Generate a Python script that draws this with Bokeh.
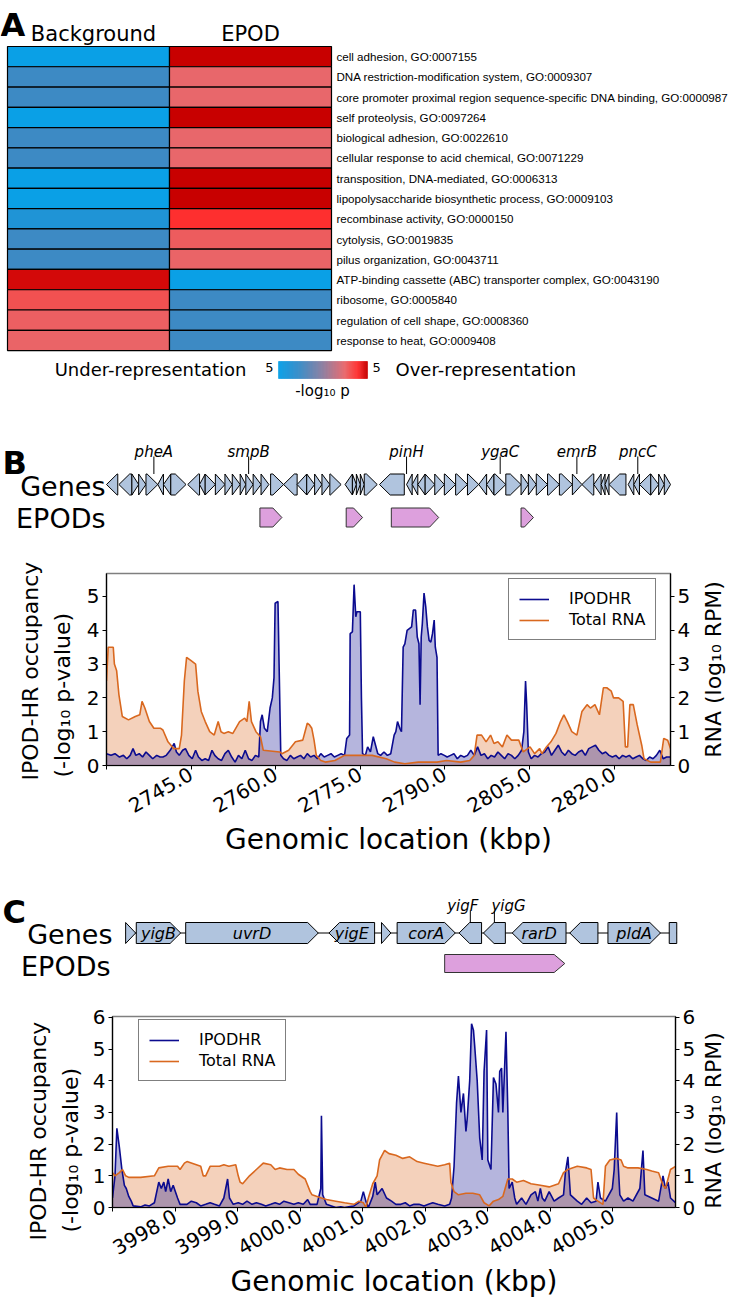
import math
import numpy as np
from bokeh.plotting import figure
from bokeh.layouts import column, row
from bokeh.models import (Range1d, LinearAxis, FixedTicker, CustomJSTickFormatter,
                          Legend, LegendItem, LinearColorMapper, ColumnDataSource, Plot)
from bokeh.embed import file_html
from bokeh.resources import INLINE
from bokeh.core.properties import value

# ---------------- Panel A data ----------------
GO_TERMS = [
    "cell adhesion, GO:0007155",
    "DNA restriction-modification system, GO:0009307",
    "core promoter proximal region sequence-specific DNA binding, GO:0000987",
    "self proteolysis, GO:0097264",
    "biological adhesion, GO:0022610",
    "cellular response to acid chemical, GO:0071229",
    "transposition, DNA-mediated, GO:0006313",
    "lipopolysaccharide biosynthetic process, GO:0009103",
    "recombinase activity, GO:0000150",
    "cytolysis, GO:0019835",
    "pilus organization, GO:0043711",
    "ATP-binding cassette (ABC) transporter complex, GO:0043190",
    "ribosome, GO:0005840",
    "regulation of cell shape, GO:0008360",
    "response to heat, GO:0009408",
]
COLUMNS = ["Background", "EPOD"]
BACKGROUND = [-5, -2.5, -2.5, -5, -2.5, -2.5, -5, -5, -3.8, -2.5, -2.5, 4.8, 3.1, 2.7, 2.6]
EPOD_VALS = [5, 2.5, 2.5, 5, 2.5, 2.5, 5, 5, 4.0, 2.8, 2.6, -5, -2.5, -2.5, -2.5]
CBAR_LOW, CBAR_HIGH = -5, 5

# ---------------- Panel B data ----------------
B_GENE_START = [2730.0, 2732.2, 2734.5, 2735.7, 2737.0, 2739.1, 2740.1, 2741.4, 2744.4, 2746.5,
                2747.5, 2749.3, 2751.0, 2752.3, 2753.7, 2754.7, 2756.0, 2757.4, 2759.1, 2761.4,
                2763.8, 2765.5, 2766.9, 2768.2, 2769.6, 2772.3, 2773.6, 2774.3, 2775.0, 2775.7,
                2778.4, 2783.2, 2784.2, 2785.2, 2786.5, 2788.2, 2789.9, 2791.9, 2794.0, 2796.0,
                2797.4, 2798.7, 2800.8, 2803.5, 2804.8, 2806.2, 2808.2, 2810.3, 2812.6, 2814.3,
                2816.4, 2817.7, 2818.4, 2819.1, 2822.5, 2823.5, 2824.5, 2826.5, 2827.9, 2828.9]
B_GENE_END = [2732.0, 2734.5, 2735.7, 2737.0, 2739.1, 2740.1, 2741.4, 2744.1, 2746.5, 2747.5,
              2749.3, 2751.0, 2752.3, 2753.7, 2754.7, 2756.0, 2757.4, 2758.8, 2761.4, 2763.8,
              2765.5, 2766.9, 2768.2, 2769.6, 2771.6, 2773.6, 2774.3, 2775.0, 2775.7, 2778.0,
              2782.8, 2784.2, 2785.2, 2786.5, 2788.2, 2789.9, 2791.9, 2794.0, 2796.0, 2797.4,
              2798.7, 2800.8, 2803.5, 2804.8, 2806.2, 2808.2, 2810.3, 2812.6, 2814.3, 2816.4,
              2817.7, 2818.4, 2819.1, 2822.1, 2823.5, 2824.5, 2826.5, 2827.9, 2828.9, 2830.0]
B_GENE_STRAND = [-1, -1, 1, 1, 1, -1, -1, 1, -1, -1,
                 1, 1, 1, 1, 1, 1, 1, 1, 1, -1,
                 -1, 1, 1, 1, 1, -1, 1, 1, 1, 1,
                 -1, -1, -1, -1, 1, 1, 1, 1, 1, -1,
                 -1, 1, 1, 1, 1, 1, 1, 1, 1, -1,
                 -1, -1, -1, -1, -1, -1, -1, 1, 1, 1]
B_LABELS = ["pheA", "smpB", "pinH", "ygaC", "emrB", "pncC"]
B_LABEL_POS = [2738.4, 2755.2, 2783.2, 2799.8, 2813.4, 2824.2]
B_EPOD_START = [2757.2, 2772.5, 2780.5, 2803.5]
B_EPOD_END = [2761.1, 2775.4, 2788.9, 2805.7]

B_IPOD_X = [2730.0, 2730.8, 2731.5, 2732.3, 2733.0, 2733.6, 2734.2, 2734.7, 2735.2, 2735.8,
            2736.4, 2737.0, 2737.6, 2738.2, 2738.9, 2739.5, 2740.0, 2740.6, 2741.3, 2742.0,
            2742.4, 2742.9, 2743.5, 2744.0, 2744.6, 2745.2, 2745.8, 2746.3, 2746.9, 2747.5,
            2748.1, 2748.7, 2749.2, 2749.8, 2750.4, 2751.0, 2751.6, 2752.2, 2752.8, 2753.4,
            2754.0, 2754.6, 2755.2, 2755.8, 2756.4, 2757.0, 2757.3, 2757.6, 2758.0, 2758.5,
            2759.0, 2759.4, 2759.7, 2759.9, 2760.4, 2760.6, 2760.9, 2761.4, 2762.0, 2762.6,
            2763.2, 2763.8, 2764.4, 2765.0, 2765.6, 2766.2, 2766.8, 2767.4, 2768.0, 2768.6,
            2769.2, 2769.8, 2770.4, 2771.0, 2771.6, 2772.2, 2772.6, 2773.1, 2773.2, 2773.6,
            2773.9, 2774.2, 2774.4, 2775.0, 2775.2, 2775.4, 2775.9, 2776.3, 2776.8, 2777.3,
            2777.7, 2778.1, 2778.6, 2779.2, 2779.8, 2780.4, 2781.0, 2781.3, 2781.6, 2782.0,
            2782.3, 2782.6, 2782.9, 2783.3, 2783.7, 2784.1, 2784.4, 2784.8, 2785.1, 2785.4,
            2785.6, 2785.8, 2786.0, 2786.3, 2786.6, 2786.9, 2787.2, 2787.5, 2787.8, 2788.1,
            2788.3, 2788.6, 2788.8, 2789.3, 2789.9, 2790.4, 2791.0, 2791.6, 2792.2, 2792.8,
            2793.4, 2794.0, 2794.6, 2795.2, 2795.8, 2796.4, 2797.0, 2797.6, 2798.2, 2798.8,
            2799.4, 2800.0, 2800.6, 2801.2, 2801.8, 2802.4, 2803.0, 2803.6, 2804.0, 2804.3,
            2804.5, 2804.8, 2805.3, 2805.9, 2806.5, 2807.1, 2807.7, 2808.3, 2808.9, 2809.5,
            2810.1, 2810.7, 2811.3, 2811.9, 2812.5, 2813.1, 2813.7, 2814.3, 2814.9, 2815.5,
            2816.1, 2816.7, 2817.3, 2817.9, 2818.5, 2819.1, 2819.7, 2820.3, 2820.9, 2821.5,
            2822.1, 2822.7, 2823.3, 2823.9, 2824.5, 2825.1, 2825.7, 2826.3, 2826.9, 2827.5,
            2828.1, 2828.7, 2829.3, 2830.0]
B_IPOD_Y = [0.35, 0.3, 0.35, 0.25, 0.3, 0.2, 0.3, 0.5, 0.3, 0.35,
            0.25, 0.4, 0.3, 0.2, 0.3, 0.25, 0.25, 0.3, 0.45, 0.65,
            0.4, 0.3, 0.45, 0.5, 0.3, 0.2, 0.45, 0.25, 0.15, 0.2,
            0.15, 0.45, 0.3, 0.2, 0.15, 0.35, 0.45, 0.25, 0.1, 0.3,
            0.2, 0.45, 0.2, 0.15, 0.3, 0.25, 1.3, 1.5, 1.1, 1.0,
            1.7, 2.0, 2.6, 4.8, 4.85, 3.0, 0.3, 0.2, 0.15, 0.3,
            0.2, 0.25, 0.3, 0.2, 0.35, 0.25, 0.3, 0.2, 0.35, 0.25,
            0.3, 0.35, 0.25, 0.3, 0.35, 0.3, 0.8, 0.9, 3.9, 3.95,
            5.35, 4.4, 4.55, 4.55, 2.0, 0.35, 0.3, 0.55, 0.4, 0.85,
            0.6, 0.35, 0.3, 0.4, 0.3, 0.35, 0.9, 1.0, 1.3, 1.1,
            1.0, 3.5, 3.6, 4.0, 4.05, 4.1, 4.6, 4.6, 3.8, 3.6,
            1.8, 3.8, 4.2, 5.1, 4.7, 4.1, 3.7, 3.65, 3.9, 4.3,
            3.5, 3.2, 0.3, 0.35, 0.3, 0.25, 0.3, 0.35, 0.2, 0.3,
            0.25, 0.3, 0.45, 0.3, 0.55, 0.3, 0.35, 0.2, 0.3, 0.25,
            0.4, 0.3, 0.2, 0.35, 0.3, 0.2, 0.3, 0.45, 1.0, 2.5,
            1.8, 0.4, 0.2, 0.3, 0.25, 0.35, 0.4, 0.55, 0.3, 0.45,
            0.6, 0.4, 0.3, 0.45, 0.35, 0.3, 0.4, 0.45, 0.3, 0.5,
            0.55, 0.6, 0.45, 0.35, 0.4, 0.3, 0.25, 0.3, 0.2, 0.3,
            0.25, 0.3, 0.2, 0.25, 0.3, 0.2, 0.15, 0.25, 0.2, 0.3,
            0.45, 0.2, 0.25, 0.25]
B_RNA_X = [2730.0, 2730.3, 2731.2, 2731.4, 2731.8, 2732.2, 2732.8, 2733.9, 2735.1, 2735.9,
           2736.3, 2736.8, 2737.6, 2738.4, 2739.6, 2740.0, 2740.9, 2741.9, 2742.9, 2743.3,
           2743.8, 2744.2, 2745.0, 2745.8, 2746.2, 2746.8, 2747.5, 2748.3, 2749.1, 2749.8,
           2750.3, 2750.8, 2751.6, 2752.4, 2753.6, 2754.5, 2754.9, 2755.3, 2755.7, 2756.5,
           2757.3, 2757.8, 2760.7, 2761.1, 2762.3, 2763.5, 2764.8, 2765.2, 2765.6, 2766.0,
           2766.4, 2766.8, 2767.2, 2768.0, 2768.8, 2770.5, 2772.2, 2773.8, 2775.3, 2777.1,
           2779.6, 2781.1, 2782.9, 2785.3, 2788.6, 2790.3, 2792.8, 2794.4, 2795.2, 2795.7,
           2796.5, 2797.3, 2798.1, 2798.7, 2799.4, 2800.2, 2801.0, 2801.8, 2803.1, 2803.9,
           2805.1, 2805.9, 2806.8, 2807.2, 2808.0, 2808.8, 2809.7, 2810.5, 2811.1, 2811.7,
           2812.5, 2813.4, 2814.3, 2815.2, 2815.8, 2816.6, 2817.4, 2818.1, 2818.7, 2819.5,
           2819.9, 2820.8, 2821.6, 2822.0, 2822.4, 2822.8, 2823.4, 2824.1, 2824.9, 2825.3,
           2826.5, 2828.2, 2828.8, 2829.5, 2830.0]
B_RNA_Y = [2.5, 3.5, 3.5, 3.0, 2.8, 2.1, 1.45, 1.35, 1.45, 1.5,
           1.9, 1.7, 1.3, 1.1, 1.1, 1.05, 0.7, 0.5, 0.5, 0.9,
           2.5, 3.2, 3.1, 3.0, 2.2, 1.6, 1.3, 1.0, 0.9, 1.3,
           1.0, 0.95, 1.0, 0.95, 1.3, 1.4, 1.3, 1.9, 1.3, 1.0,
           0.85, 0.45, 0.4, 0.35, 0.45, 0.7, 0.75, 1.0, 1.25, 1.2,
           1.1, 0.75, 0.3, 0.15, 0.1, 0.15, 0.3, 0.3, 0.3, 0.3,
           0.2, 0.1, 0.05, 0.1, 0.1, 0.15, 0.1, 0.15, 0.3, 0.9,
           0.9, 0.7, 0.9, 0.65, 0.7, 0.55, 0.9, 0.75, 0.75, 0.4,
           0.55, 0.35, 0.5, 0.35, 0.55, 0.7, 0.95, 1.3, 1.5, 1.3,
           1.0, 0.9, 1.6, 1.8, 1.7, 1.8, 1.5, 2.3, 2.3, 2.2,
           2.0, 2.0, 1.9, 0.55, 0.55, 1.8, 1.8, 1.2, 0.6, 0.2,
           0.1, 0.1, 0.8, 0.75, 0.5]

# ---------------- Panel C data ----------------
C_GENE_START = [3997.21, 3997.38, 3998.17, 4000.46, 4001.30, 4001.55, 4002.54, 4002.93, 4003.39, 4004.31, 4004.92, 4005.90]
C_GENE_END = [3997.37, 3998.09, 4000.29, 4001.19, 4001.45, 4002.48, 4002.90, 4003.28, 4004.25, 4004.76, 4005.76, 4006.02]
C_GENE_STRAND = [1, 1, 1, -1, 1, 1, -1, -1, -1, -1, 1, 0]
C_GENE_NAME = ["", "yigB", "uvrD", "yigE", "", "corA", "", "", "rarD", "", "pldA", ""]
C_LABELS = ["yigF", "yigG"]
C_LABEL_POS = [4002.60, 4003.33]
C_LABEL_GENE = [4002.72, 4003.105]
C_EPOD_START = [4002.31]
C_EPOD_END = [4004.23]

C_IPOD_X = [3997.00, 3997.04, 3997.07, 3997.11, 3997.15, 3997.19, 3997.22, 3997.26, 3997.30, 3997.33,
            3997.45, 3997.52, 3997.59, 3997.67, 3997.74, 3997.78, 3997.82, 3997.85, 3997.89, 3997.93,
            3997.97, 3998.04, 3998.08, 3998.19, 3998.26, 3998.34, 3998.41, 3998.49, 3998.56, 3998.63,
            3998.71, 3998.78, 3998.84, 3998.87, 3998.93, 3999.01, 3999.08, 3999.15, 3999.23, 3999.30,
            3999.38, 3999.45, 3999.53, 3999.60, 3999.67, 3999.74, 3999.82, 3999.90, 3999.97, 4000.05,
            4000.12, 4000.16, 4000.27, 4000.33, 4000.34, 4000.36, 4000.42, 4000.50, 4000.57, 4000.65,
            4000.71, 4000.80, 4000.86, 4000.97, 4001.01, 4001.05, 4001.09, 4001.16, 4001.20, 4001.23,
            4001.31, 4001.38, 4001.46, 4001.53, 4001.61, 4001.68, 4001.75, 4001.82, 4001.90, 4001.98,
            4002.05, 4002.12, 4002.20, 4002.31, 4002.39, 4002.42, 4002.46, 4002.50, 4002.53, 4002.57,
            4002.61, 4002.65, 4002.67, 4002.71, 4002.74, 4002.77, 4002.79, 4002.83, 4002.87, 4002.91,
            4002.94, 4002.98, 4003.00, 4003.05, 4003.09, 4003.13, 4003.17, 4003.19, 4003.22, 4003.24,
            4003.26, 4003.29, 4003.32, 4003.34, 4003.39, 4003.43, 4003.46, 4003.54, 4003.61, 4003.69,
            4003.76, 4003.80, 4003.84, 4003.87, 4003.91, 4003.98, 4004.06, 4004.13, 4004.21, 4004.24,
            4004.28, 4004.32, 4004.43, 4004.50, 4004.58, 4004.65, 4004.73, 4004.76, 4004.80, 4004.88,
            4004.99, 4005.02, 4005.06, 4005.08, 4005.11, 4005.17, 4005.24, 4005.32, 4005.43, 4005.48,
            4005.51, 4005.62, 4005.73, 4005.80, 4005.84, 4005.88, 4005.92, 4006.00]
C_IPOD_Y = [0.3, 1.0, 2.5, 1.9, 1.2, 0.7, 0.6, 0.35, 0.2, 0.05,
            0.02, 0.08, 0.05, 0.15, 0.8, 0.6, 0.8, 0.5, 0.9, 0.5,
            0.7, 0.3, 0.1, 0.1, 0.2, 0.15, 0.05, 0.1, 0.15, 0.1,
            0.05, 0.3, 0.9, 0.3, 0.1, 0.15, 0.1, 0.2, 0.1, 0.15,
            0.1, 0.05, 0.1, 0.15, 0.1, 0.2, 0.15, 0.1, 0.15, 0.1,
            0.25, 0.1, 0.1, 0.6, 2.9, 0.4, 0.1, 0.05, 0.0, 0.02,
            0.0, 0.03, 0.05, 0.2, 0.5, 0.2, 0.0, 0.35, 0.8, 0.4,
            0.6, 0.3, 0.2, 0.1, 0.1, 0.15, 0.05, 0.1, 0.1, 0.05,
            0.1, 0.15, 0.1, 0.05, 0.1, 0.3, 1.3, 3.3, 4.15, 3.0,
            3.6, 2.4, 2.8, 4.0, 5.8, 5.6, 5.1, 4.0, 2.2, 1.5,
            4.3, 5.6, 1.5, 1.2, 4.1, 3.9, 3.0, 4.3, 4.4, 3.0,
            4.0, 5.55, 3.0, 0.6, 0.8, 0.3, 0.1, 0.3, 0.1, 0.4,
            0.5, 0.2, 0.6, 0.3, 0.2, 0.5, 0.2, 0.3, 0.4, 1.1,
            1.6, 0.4, 0.2, 0.1, 0.3, 0.15, 0.2, 0.8, 0.3, 0.2,
            0.6, 1.2, 3.0, 1.5, 0.4, 0.2, 0.3, 0.2, 0.6, 1.8,
            0.4, 0.3, 0.2, 1.0, 0.6, 0.8, 0.3, 0.15]
C_RNA_X = [3997.00, 3997.04, 3997.11, 3997.16, 3997.21, 3997.26, 3997.45, 3997.67, 3997.74, 3997.89,
           3998.04, 3998.08, 3998.15, 3998.19, 3998.41, 3998.45, 3998.49, 3998.56, 3998.71, 3998.78,
           3998.86, 3998.97, 3999.01, 3999.04, 3999.08, 3999.19, 3999.30, 3999.41, 3999.53, 3999.60,
           3999.67, 3999.79, 3999.90, 3999.97, 4000.08, 4000.16, 4000.19, 4000.27, 4000.34, 4000.42,
           4000.57, 4000.71, 4000.86, 4000.94, 4001.01, 4001.05, 4001.09, 4001.16, 4001.23, 4001.27,
           4001.35, 4001.42, 4001.53, 4001.64, 4001.75, 4001.87, 4001.98, 4002.09, 4002.20, 4002.31,
           4002.39, 4002.41, 4002.46, 4002.53, 4002.65, 4002.76, 4002.87, 4002.94, 4003.02, 4003.09,
           4003.17, 4003.24, 4003.32, 4003.39, 4003.46, 4003.57, 4003.69, 4003.84, 4003.98, 4004.13,
           4004.21, 4004.28, 4004.43, 4004.58, 4004.65, 4004.69, 4004.76, 4004.84, 4004.88, 4004.95,
           4005.06, 4005.13, 4005.17, 4005.24, 4005.40, 4005.54, 4005.62, 4005.73, 4005.80, 4005.84,
           4005.92, 4006.00]
C_RNA_Y = [1.1, 1.0, 1.1, 1.2, 1.0, 0.95, 0.95, 1.0, 1.25, 1.3,
           1.3, 1.2, 1.4, 1.45, 1.3, 1.0, 1.0, 1.3, 1.3, 1.35,
           1.3, 1.35, 1.0, 0.8, 0.75, 1.0, 1.2, 1.4, 1.35, 1.2,
           1.25, 1.2, 1.2, 1.05, 0.9, 0.5, 0.4, 0.35, 0.3, 0.25,
           0.2, 0.15, 0.1, 0.2, 0.15, 0.0, 0.3, 0.75, 1.0, 1.5,
           1.8, 1.7, 1.65, 1.55, 1.6, 1.45, 1.4, 1.35, 1.3, 1.35,
           1.4, 0.8, 0.5, 0.4, 0.45, 0.45, 0.4, 0.15, 0.05, 0.2,
           0.25, 0.35, 0.9, 0.9, 0.8, 0.85, 0.75, 0.7, 0.65, 0.75,
           1.1, 1.2, 1.3, 1.25, 1.2, 0.3, 0.2, 0.1, 1.3, 1.5,
           1.55, 1.5, 1.3, 1.25, 1.25, 1.2, 1.15, 1.1, 0.7, 0.6,
           1.2, 1.3]

SERIES_NAMES = ["IPODHR", "Total RNA"]
Y_LABELS = ["IPOD-HR occupancy", "(-log\u2081\u2080 p-value)"]
Y2_LABEL = "RNA (log\u2081\u2080 RPM)"
X_LABEL = "Genomic location (kbp)"
B_TICKS = [2730, 2745, 2760, 2775, 2790, 2805, 2820]
C_TICKS = [3997, 3998, 3999, 4000, 4001, 4002, 4003, 4004, 4005]

# ---------------- styling / layout constants ----------------
FONT = "DejaVu Sans"
NAVY = "#0b0b8f"
ORANGE = "#d9681f"
GENE_FILL = "#b0c4de"
EPOD_FILL = "#dda0dd"
W = 729
RIGHT_STRIP = 700          # x where the right-hand title strip starts
HAS_FRAME_ALIGN = "frame_align" in Plot.properties()


def fig(**kw):
    if HAS_FRAME_ALIGN:
        kw["frame_align"] = False
    return figure(output_backend="svg", toolbar_location=None, **kw)


def blank(width, height, x_range, y_range):
    p = fig(width=width, height=height, x_range=x_range, y_range=y_range, min_border=0,
            x_axis_location=None, y_axis_location=None, outline_line_color=None)
    p.grid.visible = False
    return p


def make_palette():
    anchors = [(-5.0, (10, 160, 230)), (-3.8, (31, 148, 214)), (-2.5, (61, 138, 196)),
               (0.0, (140, 125, 160)), (2.5, (232, 104, 108)), (3.0, (240, 85, 85)),
               (4.0, (255, 48, 48)), (5.0, (200, 0, 0))]
    pal = []
    for t in np.linspace(-5, 5, 256):
        for (v0, c0), (v1, c1) in zip(anchors[:-1], anchors[1:]):
            if v0 <= t <= v1:
                f = (t - v0) / (v1 - v0)
                c = tuple(int(round(a + (b - a) * f)) for a, b in zip(c0, c1))
                pal.append("#%02x%02x%02x" % c)
                break
    return pal


PALETTE = make_palette()

# ================= Panel A =================
HA = 420
LEFTA = 7       # px, left of heatmap
CW = 162.0      # px per heatmap column
RH = 20.27      # px per heatmap row
TOPA = 46       # px, top of heatmap


def ax_(px):
    return (px - LEFTA) / CW


def ay_(py):
    return (py - TOPA) / RH


pA = blank(W, HA, Range1d(ax_(0), ax_(W)), Range1d(ay_(HA), ay_(0)))
mapper = LinearColorMapper(palette=PALETTE, low=CBAR_LOW, high=CBAR_HIGH)
n = len(GO_TERMS)
srcA = ColumnDataSource(dict(x=[0.5] * n + [1.5] * n,
                             y=[i + 0.5 for i in range(n)] * 2,
                             v=BACKGROUND + EPOD_VALS))
pA.rect("x", "y", width=1, height=1, source=srcA,
        fill_color={"field": "v", "transform": mapper},
        line_color="black", line_width=1.2)
pA.text(x=[ax_(93), ax_(250)], y=[ay_(45)] * 2, text=COLUMNS, text_align="center",
        text_baseline="bottom", text_font=value(FONT), text_font_size="21px", text_color="black")
pA.text(x=[2 + 5 / CW] * n, y=[i + 0.5 for i in range(n)], text=GO_TERMS,
        text_align="left", text_baseline="middle", text_font=value("Liberation Sans"),
        text_font_size="11.6px", text_color="black")
pA.text(x=[ax_(0)], y=[ay_(24)], text=["A"], text_align="left", text_baseline="alphabetic",
        text_font=value(FONT), text_font_style="bold", text_font_size="32px", text_color="black")
# colour bar
cb_vals = np.linspace(CBAR_LOW, CBAR_HIGH, 120)
cb_edges = np.linspace(ax_(278), ax_(367), 121)
cb_src = ColumnDataSource(dict(x=(cb_edges[:-1] + cb_edges[1:]) / 2, v=cb_vals))
pA.rect("x", ay_(369.5), width=(cb_edges[1] - cb_edges[0]) * 1.05, height=17 / RH, source=cb_src,
        fill_color={"field": "v", "transform": mapper},
        line_color={"field": "v", "transform": mapper}, line_width=0.5)
pA.text(x=[ax_(273)], y=[ay_(367)], text=[str(abs(CBAR_LOW))],
        text_align="right", text_baseline="middle", text_font=value(FONT),
        text_font_size="13px", text_color="black")
pA.text(x=[ax_(372)], y=[ay_(367)], text=[str(CBAR_HIGH)],
        text_align="left", text_baseline="middle", text_font=value(FONT),
        text_font_size="13px", text_color="black")
pA.text(x=[ax_(246)], y=[ay_(369)], text=["Under-representation"], text_align="right",
        text_baseline="middle", text_font=value(FONT), text_font_size="18px", text_color="black")
pA.text(x=[ax_(395)], y=[ay_(369)], text=["Over-representation"], text_align="left",
        text_baseline="middle", text_font=value(FONT), text_font_size="18px", text_color="black")
pA.text(x=[ax_(322)], y=[ay_(390)], text=["-log\u2081\u2080 p"], text_align="center",
        text_baseline="middle", text_font=value(FONT), text_font_size="15px", text_color="black")


# ================= helpers =================
def gene_polys(starts, ends, strands, ymid, half, head):
    xs, ys = [], []
    for s, e, d in zip(starts, ends, strands):
        h = min(head, e - s)
        top, bot = ymid - half, ymid + half
        if d > 0:
            xs.append([s, e - h, e, e - h, s])
            ys.append([top, top, ymid, bot, bot])
        elif d < 0:
            xs.append([e, s + h, s, s + h, e])
            ys.append([top, top, ymid, bot, bot])
        else:
            xs.append([s, e, e, s])
            ys.append([top, top, bot, bot])
    return xs, ys


def gene_figure(height, x0, x1, left, right):
    scale = (right - left) / (x1 - x0)
    xr = Range1d(x0 - left / scale, x1 + (W - right) / scale)
    p = blank(W, height, xr, Range1d(height, 0))
    return p, (lambda px: x0 + (px - left) / scale)


def signal_row(height, x0, x1, ymax, frame_l, frame_r, top, bottom, ticks, yticks,
               lab_w, lab_x, lab_start, right_center):
    main_w = RIGHT_STRIP - lab_w
    p = fig(width=main_w, height=height, x_range=Range1d(x0, x1), y_range=Range1d(0, ymax),
            min_border_left=frame_l - lab_w, min_border_right=RIGHT_STRIP - frame_r,
            min_border_top=top, min_border_bottom=bottom)
    p.add_layout(LinearAxis(), "right")
    p.grid.visible = False
    p.outline_line_color = "#7f7f7f"
    p.outline_line_width = 1.5
    for a in p.axis:
        a.axis_line_color = "black"
        a.axis_line_width = 1.2
        a.major_tick_line_color = "black"
        a.major_tick_out = 4
        a.major_tick_in = 0
        a.minor_tick_out = 0
        a.minor_tick_in = 0
        a.major_label_text_font = FONT
        a.major_label_text_font_size = "20px"
        a.major_label_text_color = "black"
        a.axis_label_text_font = FONT
        a.axis_label_text_font_style = "normal"
        a.axis_label_text_color = "black"
    for a in p.yaxis:
        a.ticker = FixedTicker(ticks=yticks)
        a.major_label_standoff = 3
    p.xaxis.ticker = FixedTicker(ticks=ticks)
    p.xaxis.formatter = CustomJSTickFormatter(
        args=dict(first=ticks[0]),
        code="return Math.abs(tick - first) < 1e-6 ? '' : tick.toFixed(1);")
    p.xaxis.major_label_orientation = math.pi / 6
    p.xaxis.major_label_standoff = 3
    p.xaxis.axis_label = X_LABEL
    p.xaxis.axis_label_text_font_size = "28px"
    p.xaxis.axis_label_standoff = 0
    # left strip: two-line y title, lines start at the same point (reading upward)
    pl = blank(lab_w, height, Range1d(0, lab_w), Range1d(0, height))
    pl.text(x=list(lab_x), y=[height - s for s in lab_start], text=Y_LABELS, angle=math.pi / 2,
            text_align="left", text_baseline="middle", text_font=value(FONT),
            text_font_size="22px", text_color="black")
    # right strip: secondary y title (reading upward)
    rw = W - RIGHT_STRIP
    pr = blank(rw, height, Range1d(0, rw), Range1d(0, height))
    pr.text(x=[713 - RIGHT_STRIP], y=[height - right_center], text=[Y2_LABEL], angle=math.pi / 2,
            text_align="center", text_baseline="middle", text_font=value(FONT),
            text_font_size="22px", text_color="black")
    return p, row(pl, p, pr, spacing=0)


def draw_signals(p, ix, iy, rx, ry, loc):
    p.varea(x=rx, y1=0, y2=ry, fill_color=ORANGE, fill_alpha=0.3)
    p.varea(x=ix, y1=0, y2=iy, fill_color=NAVY, fill_alpha=0.3)
    l1 = p.line(ix, iy, line_color=NAVY, line_width=1.6)
    l2 = p.line(rx, ry, line_color=ORANGE, line_width=1.6)
    leg = Legend(items=[LegendItem(label=SERIES_NAMES[0], renderers=[l1]),
                        LegendItem(label=SERIES_NAMES[1], renderers=[l2])],
                 location=loc)
    leg.label_text_font = FONT
    leg.label_text_font_size = "16px"
    leg.label_text_color = "black"
    leg.border_line_color = "black"
    leg.border_line_width = 1.2
    leg.background_fill_alpha = 1.0
    leg.padding = 10
    leg.spacing = 2
    leg.glyph_width = 30
    leg.glyph_height = 18
    leg.label_height = 18
    leg.label_standoff = 20
    leg.margin = 0
    p.add_layout(leg)


def track_labels(p, tx, gx_right, ex_right, y_genes, y_epods, letter, y_letter):
    p.text(x=[tx(gx_right), tx(ex_right)], y=[y_genes, y_epods], text=["Genes", "EPODs"],
           text_align="right", text_baseline="middle", text_font=value(FONT),
           text_font_size="27px", text_color="black")
    p.text(x=[tx(2)], y=[y_letter], text=[letter], text_align="left", text_baseline="alphabetic",
           text_font=value(FONT), text_font_style="bold", text_font_size="32px", text_color="black")


# ================= Panel B =================
B_X0, B_X1 = 2730, 2830
B_L, B_R = 106, 670
HBG = 120
pBg, bx = gene_figure(HBG, B_X0, B_X1, B_L, B_R)
GYB, EYB = 64, 97
gx, gy = gene_polys(B_GENE_START, B_GENE_END, B_GENE_STRAND, GYB, 10.5, 1.9)
pBg.patches(gx, gy, fill_color=GENE_FILL, line_color="black", line_width=1)
ex, ey = gene_polys(B_EPOD_START, B_EPOD_END, [1] * len(B_EPOD_START), EYB, 9.5, 1.6)
pBg.patches(ex, ey, fill_color=EPOD_FILL, line_color="#333333", line_width=1)
pBg.segment(x0=B_LABEL_POS, y0=[36] * len(B_LABELS), x1=B_LABEL_POS, y1=[GYB - 10.5] * len(B_LABELS),
            line_color="black", line_width=1)
pBg.text(x=B_LABEL_POS, y=[31.5] * len(B_LABELS), text=B_LABELS, text_align="center",
         text_baseline="alphabetic", text_font=value(FONT), text_font_style="italic",
         text_font_size="15px", text_color="black")
track_labels(pBg, bx, 105, 105, 66, 98, "B", 42)

HB = 320
pB, rowB = signal_row(HB, B_X0, B_X1, 5.68, B_L, B_R, 33, 95, B_TICKS, [0, 1, 2, 3, 4, 5],
                      76, (30, 62), (240, 237), 129)
draw_signals(pB, B_IPOD_X, B_IPOD_Y, B_RNA_X, B_RNA_Y, (402, 125))

# ================= Panel C =================
C_X0, C_X1 = 3997, 4006
C_L, C_R = 112, 675
HCG = 130
pCg, cx = gene_figure(HCG, C_X0, C_X1, C_L, C_R)
GYC, EYC = 72.5, 103
pCg.line([C_GENE_START[0], C_GENE_END[-1]], [GYC, GYC], line_color="black", line_width=1)
gx, gy = gene_polys(C_GENE_START, C_GENE_END, C_GENE_STRAND, GYC, 10.5, 0.17)
pCg.patches(gx, gy, fill_color=GENE_FILL, line_color="black", line_width=1)
ex, ey = gene_polys(C_EPOD_START, C_EPOD_END, [1], EYC, 9, 0.17)
pCg.patches(ex, ey, fill_color=EPOD_FILL, line_color="#333333", line_width=1)
named = [(s, e, nm) for s, e, nm in zip(C_GENE_START, C_GENE_END, C_GENE_NAME) if nm]
pCg.text(x=[(s + e) / 2 for s, e, _ in named], y=[GYC] * len(named), text=[nm for _, _, nm in named],
         text_align="center", text_baseline="middle", text_font=value(FONT), text_font_style="italic",
         text_font_size="16px", text_color="black")
pCg.segment(x0=C_LABEL_GENE, y0=[50] * 2, x1=C_LABEL_GENE, y1=[GYC - 10.5] * 2,
            line_color="black", line_width=1)
pCg.text(x=C_LABEL_POS, y=[45] * 2, text=C_LABELS, text_align="center",
         text_baseline="alphabetic", text_font=value(FONT), text_font_style="italic",
         text_font_size="15px", text_color="black")
track_labels(pCg, cx, 112, 110, 74, 106, "C", 51)

HC = 314
pC, rowC = signal_row(HC, C_X0, C_X1, 6.03, C_L, C_R, 26, 97, C_TICKS, [0, 1, 2, 3, 4, 5, 6],
                      84, (38, 70), (250, 242), 130)
draw_signals(pC, C_IPOD_X, C_IPOD_Y, C_RNA_X, C_RNA_Y, (26, 126))

page = column(pA, pBg, rowB, pCg, rowC, spacing=0)
open("out.html", "w").write(file_html(page, INLINE))
